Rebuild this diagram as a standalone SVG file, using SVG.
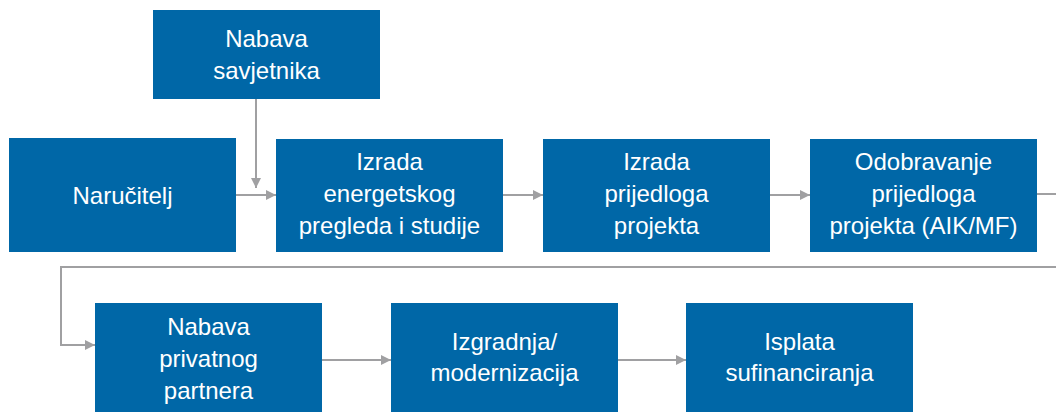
<svg xmlns="http://www.w3.org/2000/svg" width="1056" height="412" viewBox="0 0 1056 412">
<style>
.box{fill:#0067A7}
.t{font-family:"Liberation Sans",Arial,sans-serif;font-size:24px;fill:#ffffff;text-anchor:middle}
.c{fill:none;stroke:#A0A0A2;stroke-width:2}
</style>
<defs>
<marker id="arr" viewBox="0 0 10 10" refX="10" refY="5" markerWidth="5" markerHeight="5" orient="auto" markerUnits="strokeWidth">
<path d="M0,0 L10,5 L0,10 z" fill="#A0A0A2"/>
</marker>
</defs>
<rect width="1056" height="412" fill="#ffffff"/>
<g id="connectors">
<path class="c" d="M256,99 V188" marker-end="url(#arr)"/>
<path class="c" d="M236,195 H276" marker-end="url(#arr)"/>
<path class="c" d="M503,195 H543" marker-end="url(#arr)"/>
<path class="c" d="M770,195 H810" marker-end="url(#arr)"/>
<path class="c" d="M1037,194 H1070 V267 H61 V345 H95" marker-end="url(#arr)"/>
<path class="c" d="M322,360 H391" marker-end="url(#arr)"/>
<path class="c" d="M618,360 H686" marker-end="url(#arr)"/>
</g>
<g id="nabava-savjetnika">
<rect class="box" x="153" y="10" width="227" height="89"/>
<text class="t" x="266.5" y="47">Nabava</text>
<text class="t" x="266.5" y="79">savjetnika</text>
</g>
<g id="narucitelj">
<rect class="box" x="9" y="138" width="227" height="114"/>
<text class="t" x="122.5" y="204">Naručitelj</text>
</g>
<g id="izrada-energetskog">
<rect class="box" x="276" y="139" width="227" height="113"/>
<text class="t" x="389.5" y="170">Izrada</text>
<text class="t" x="389.5" y="202">energetskog</text>
<text class="t" x="389.5" y="234">pregleda i studije</text>
</g>
<g id="izrada-prijedloga">
<rect class="box" x="543" y="139" width="227" height="113"/>
<text class="t" x="656.5" y="170">Izrada</text>
<text class="t" x="656.5" y="202">prijedloga</text>
<text class="t" x="656.5" y="234">projekta</text>
</g>
<g id="odobravanje">
<rect class="box" x="810" y="139" width="227" height="113"/>
<text class="t" x="923.5" y="170">Odobravanje</text>
<text class="t" x="923.5" y="202">prijedloga</text>
<text class="t" x="923.5" y="234">projekta (AIK/MF)</text>
</g>
<g id="nabava-privatnog">
<rect class="box" x="95" y="303" width="227" height="109"/>
<text class="t" x="208.5" y="335">Nabava</text>
<text class="t" x="208.5" y="367">privatnog</text>
<text class="t" x="208.5" y="399">partnera</text>
</g>
<g id="izgradnja">
<rect class="box" x="391" y="303" width="227" height="109"/>
<text class="t" x="504.5" y="350">Izgradnja/</text>
<text class="t" x="504.5" y="381">modernizacija</text>
</g>
<g id="isplata">
<rect class="box" x="686" y="303" width="227" height="109"/>
<text class="t" x="799.5" y="350">Isplata</text>
<text class="t" x="799.5" y="381">sufinanciranja</text>
</g>
</svg>
